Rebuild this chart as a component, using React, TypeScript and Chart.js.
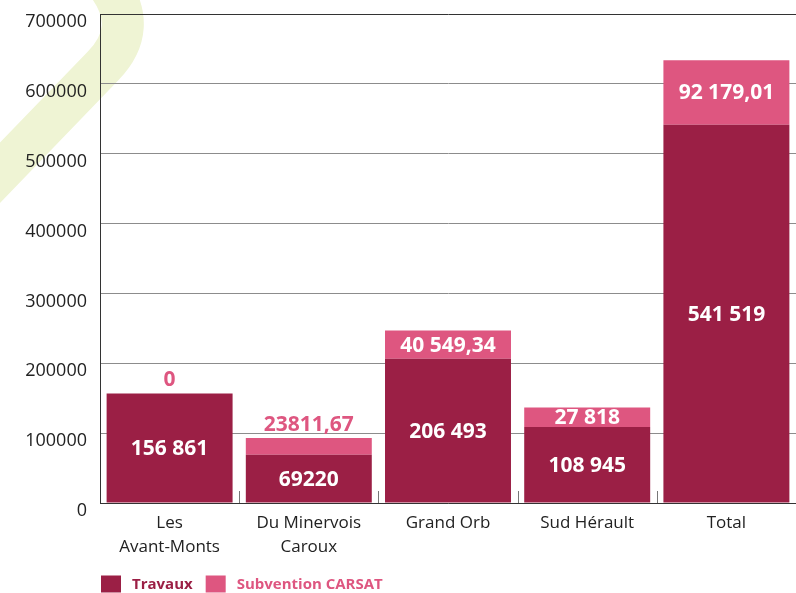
import React, { useEffect, useRef } from "react";
import { Chart, registerables } from "chart.js";

Chart.register(...registerables);

const categories: (string | string[])[] = [["Les", "Avant-Monts"], ["Du Minervois", "Caroux"], "Grand Orb", "Sud Hérault", "Total"];
const seriesNames = ["Travaux", "Subvention CARSAT"];
const travaux = [156861, 69220, 206493, 108945, 541519];
const subvention = [0, 23811.67, 40549.34, 27818, 92179.01];
const travauxLabels = ["156 861", "69220", "206 493", "108 945", "541 519"];
const subventionLabels = ["0", "23811,67", "40 549,34", "27 818", "92 179,01"];
const yMax = 700000;
const yStep = 100000;

const DARK = "#9B1F45";
const PINK = "#DE5680";
const FONT = "'Open Sans', 'Noto Sans', sans-serif";

const decoPlugin = {
  id: "deco",
  beforeDraw(chart: any) {
    const ctx = chart.ctx;
    ctx.save();
    ctx.strokeStyle = "#EFF4D4";
    ctx.lineWidth = 42;
    ctx.lineCap = "round";
    ctx.lineJoin = "round";
    ctx.beginPath();
    ctx.moveTo(-60, 235);
    ctx.lineTo(103, 66);
    ctx.quadraticCurveTo(140, 28, 108, -15);
    ctx.stroke();
    ctx.restore();
  },
};

const tickPlugin = {
  id: "catTicks",
  beforeDatasetsDraw(chart: any) {
    const ctx = chart.ctx;
    const xs = chart.scales.x;
    const bottom = chart.chartArea.bottom;
    ctx.save();
    ctx.strokeStyle = "#777";
    ctx.lineWidth = 1;
    for (let i = 0; i < categories.length - 1; i++) {
      const bx = Math.round((xs.getPixelForTick(i) + xs.getPixelForTick(i + 1)) / 2) + 0.5;
      ctx.beginPath();
      ctx.moveTo(bx, bottom - 12);
      ctx.lineTo(bx, bottom);
      ctx.stroke();
    }
    ctx.restore();
  },
};

const labelPlugin = {
  id: "valueLabels",
  afterDatasetsDraw(chart: any) {
    const ctx = chart.ctx;
    const labelSets = [travauxLabels, subventionLabels];
    ctx.save();
    ctx.font = `700 21px ${FONT}`;
    ctx.textAlign = "center";
    ctx.textBaseline = "middle";
    labelSets.forEach((labels, d) => {
      const meta = chart.getDatasetMeta(d);
      meta.data.forEach((el: any, i: number) => {
        const p = el.getProps(["x", "y", "base"], true);
        const h = Math.abs(p.base - p.y);
        if (h >= 18) {
          ctx.fillStyle = "#ffffff";
          ctx.fillText(labels[i], p.x, (p.y + p.base) / 2 + 1);
        } else {
          ctx.fillStyle = PINK;
          ctx.fillText(labels[i], p.x, Math.min(p.y, p.base) - 13);
        }
      });
    });
    ctx.restore();
  },
};

const legendPlugin = {
  id: "customLegend",
  afterDraw(chart: any) {
    const ctx = chart.ctx;
    const colors = [DARK, PINK];
    let x = chart.chartArea.left + 1;
    const yc = chart.chartArea.bottom + 81;
    ctx.save();
    ctx.font = `700 15px ${FONT}`;
    ctx.textBaseline = "middle";
    ctx.textAlign = "left";
    seriesNames.forEach((name, i) => {
      ctx.fillStyle = colors[i];
      ctx.fillRect(x, yc - 8.5, 20, 17);
      ctx.fillText(name, x + 31, yc + 1);
      x += 31 + ctx.measureText(name).width + 13;
    });
    ctx.restore();
  },
};

export default function App() {
  const ref = useRef<HTMLCanvasElement | null>(null);

  useEffect(() => {
    document.body.style.margin = "0";
    if (!ref.current) return;
    const chart = new Chart(ref.current, {
      type: "bar",
      data: {
        labels: categories,
        datasets: [
          { label: seriesNames[0], data: travaux, backgroundColor: DARK, barPercentage: 0.905, categoryPercentage: 1 },
          { label: seriesNames[1], data: subvention, backgroundColor: PINK, barPercentage: 0.905, categoryPercentage: 1 },
        ],
      },
      options: {
        animation: false,
        responsive: false,
        layout: { padding: { top: 14, left: 0, right: 0, bottom: 0 } },
        plugins: { legend: { display: false }, tooltip: { enabled: false } },
        scales: {
          x: {
            stacked: true,
            grid: { display: false },
            border: { display: true, color: "#333", width: 1 },
            ticks: { color: "#222", font: { family: FONT, size: 17, lineHeight: 1.4 }, padding: 0, maxRotation: 0, autoSkip: false },
            afterFit(scale: any) { scale.height = 90; },
          },
          y: {
            stacked: true,
            min: 0,
            max: yMax,
            grid: {
              color: (c: any) => (c.tick && c.tick.value === yMax ? "#333" : "#8c8c8c"),
              lineWidth: 1,
              drawTicks: false,
            },
            border: { display: true, color: "#333", width: 1 },
            ticks: {
              stepSize: yStep,
              color: "#222",
              padding: 13,
              labelOffset: 8,
              font: { family: FONT, size: 18 },
              callback: (v: any) => String(v),
            },
            afterFit(scale: any) {
              scale.width = 100;
              scale.paddingTop = 0;
              scale.paddingBottom = 0;
            },
          },
        },
      },
      plugins: [decoPlugin, tickPlugin, labelPlugin, legendPlugin],
    });
    return () => chart.destroy();
  }, []);

  return (
    <div style={{ width: 796, height: 593 }}>
      <canvas ref={ref} width={796} height={593} style={{ display: "block" }} />
    </div>
  );
}
